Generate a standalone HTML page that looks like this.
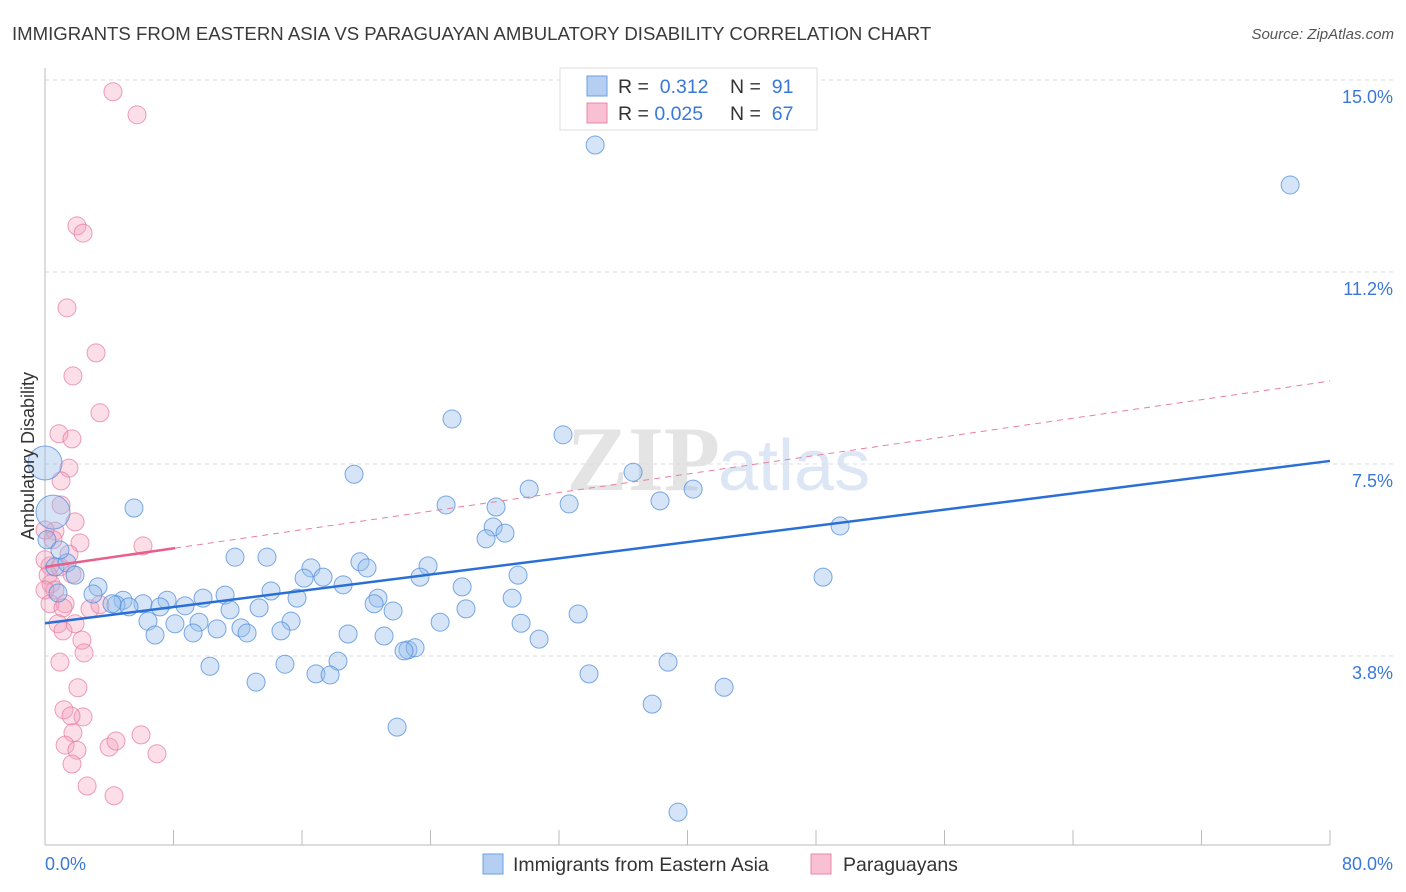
<!DOCTYPE html>
<html><head><meta charset="utf-8"><style>
body{margin:0;background:#fff;font-family:"Liberation Sans",sans-serif;}
svg{display:block}
</style></head><body>
<svg id="chart" width="1406" height="892">
<text x="12" y="40" font-size="18.6" fill="#3a3a3a">IMMIGRANTS FROM EASTERN ASIA VS PARAGUAYAN AMBULATORY DISABILITY CORRELATION CHART</text>
<text x="1394" y="39" font-size="15" fill="#555" font-style="italic" text-anchor="end">Source: ZipAtlas.com</text>
<text x="720" y="490" font-size="92" fill="#e4e4e4" font-family="Liberation Serif,serif" text-anchor="end" font-weight="bold">ZIP</text>
<text x="718" y="490" font-size="72" fill="#dce6f4">atlas</text>
<g id="grid"></g><g id="axes"></g><g id="marks"></g>
<text transform="translate(34,456) rotate(-90)" font-size="18" fill="#333" text-anchor="middle">Ambulatory Disability</text>
<g>
<rect x="560" y="68" width="257" height="62" fill="#fff" stroke="#ddd"/>
<rect x="587" y="76" width="20" height="20" fill="#b4cff2" stroke="#6a9fe0"/>
<rect x="587" y="103" width="20" height="20" fill="#f8c0d2" stroke="#e889a6"/>
<text x="618" y="93" font-size="19.5" fill="#333">R = <tspan fill="#3a78d8">&#160;0.312</tspan><tspan x="730">N = </tspan><tspan fill="#3a78d8">&#160;91</tspan></text>
<text x="618" y="120" font-size="19.5" fill="#333">R = <tspan fill="#3a78d8">0.025</tspan><tspan x="730">N = </tspan><tspan fill="#3a78d8">&#160;67</tspan></text>
</g>
<g>
<rect x="483" y="854" width="20" height="20" fill="#b4cff2" stroke="#6a9fe0"/>
<text x="513" y="871" font-size="19.5" fill="#333">Immigrants from Eastern Asia</text>
<rect x="811" y="854" width="20" height="20" fill="#f8c0d2" stroke="#e889a6"/>
<text x="843" y="871" font-size="19.5" fill="#333">Paraguayans</text>
</g>
</svg>
<script>
const yTicks=[3.75,7.5,11.25,15];
const yTickLabels=["3.8%","7.5%","11.2%","15.0%"];
const xTickLabels=["0.0%","80.0%"];
const blueX=[34.25,77.52,25.34,32.25,36.61,19.24,30.14,40.35,5.54,24.97,28.08,32.63,38.29,49.50,27.90,28.64,27.46,11.83,13.82,19.61,23.85,20.05,16.56,16.13,17.31,23.35,29.45,48.44,0.62,1.37,1.87,3.30,18.56,25.97,14.07,11.21,15.69,20.73,20.49,29.08,0.81,2.99,4.86,7.60,9.84,4.42,6.10,8.72,7.16,5.23,4.17,11.52,13.33,21.67,26.21,33.19,6.41,8.09,9.59,15.32,24.60,29.64,6.85,9.22,10.71,12.20,12.58,14.69,18.87,21.11,30.76,22.60,23.04,22.35,10.27,14.94,18.24,16.87,17.75,13.14,33.87,38.79,42.28,37.80,21.92,39.41,0,0.5,0.93,0.12];
const blueY=[13.73,12.95,8.38,8.07,7.34,7.30,7.01,7.01,6.64,6.70,6.66,6.72,6.78,6.29,6.27,6.15,6.04,5.68,5.68,5.59,5.51,5.47,5.47,5.27,5.29,5.29,5.33,5.29,5.49,5.57,5.33,5.10,5.14,5.10,5.02,4.94,4.88,4.88,4.77,4.88,4.98,4.96,4.84,4.84,4.88,4.75,4.77,4.73,4.71,4.71,4.77,4.65,4.69,4.63,4.67,4.57,4.43,4.38,4.41,4.43,4.41,4.39,4.16,4.20,4.28,4.30,4.20,4.24,4.18,4.14,4.08,3.87,3.91,3.85,3.55,3.59,3.65,3.40,3.38,3.24,3.40,3.63,3.14,2.81,2.36,0.70,7.52,6.56,5.82,6.02];
const blueBig=[0,0,0,0,0,0,0,0,0,0,0,0,0,0,0,0,0,0,0,0,0,0,0,0,0,0,0,0,0,0,0,0,0,0,0,0,0,0,0,0,0,0,0,0,0,0,0,0,0,0,0,0,0,0,0,0,0,0,0,0,0,0,0,0,0,0,0,0,0,0,0,0,0,0,0,0,0,0,0,0,0,0,0,0,0,0,1,1,0,0];
const pinkX=[4.23,5.73,1.99,2.37,1.37,3.18,1.74,3.42,0.87,1.68,1.49,1.00,1.00,1.87,0.62,2.18,0.50,1.49,6.10,0.31,0.93,1.68,0.19,0.37,0.62,1.25,0.31,1.12,2.80,1.87,0.81,1.12,2.30,2.43,0.93,2.05,1.18,2.37,1.62,1.74,1.25,1.99,1.68,2.62,3.99,4.42,5.98,6.97,4.30,3.42,0,0,0];
const pinkY=[14.77,14.32,12.15,12.01,10.55,9.67,9.22,8.50,8.09,7.99,7.42,7.17,6.70,6.37,6.19,5.96,6.02,5.74,5.90,5.51,5.49,5.35,5.33,5.16,5.04,4.77,4.77,4.69,4.67,4.38,4.38,4.24,4.06,3.81,3.63,3.13,2.70,2.56,2.58,2.25,2.01,1.91,1.64,1.21,1.97,2.09,2.21,1.84,1.02,4.75,6.21,5.63,5.04];
const blueTrend=[4.39,7.56];
const pinkTrend=[5.49,9.12];
const pinkSolidEnd=8.1;

const NS="http://www.w3.org/2000/svg";
const X=v=>45+v*(1285/80);
const Y=v=>848-v*51.2;
function mk(tag,attrs,parent){const e=document.createElementNS(NS,tag);for(const k in attrs)e.setAttribute(k,attrs[k]);parent.appendChild(e);return e;}
const grid=document.getElementById('grid'),axes=document.getElementById('axes'),marks=document.getElementById('marks');
yTicks.forEach((t,i)=>{
 const l=mk('line',{x1:45,x2:1395,y1:Y(t),y2:Y(t),stroke:'#ddd','stroke-dasharray':'4,4'},grid);
 
 
 const tx=mk('text',{x:1393,y:Y(t)+23,'font-size':18,fill:'#3a78d8','text-anchor':'end'},axes);
 tx.textContent=yTickLabels[i];
 
 
});
const ya=mk('line',{x1:45,x2:45,y1:68,y2:845,stroke:'#bbb'},axes);


const xa=mk('line',{x1:45,x2:1330,y1:845,y2:845,stroke:'#bbb'},axes);


for(let i=0;i<=10;i++){
 const t=mk('line',{x1:X(i*8),x2:X(i*8),y1:830,y2:845,stroke:'#bbb'},axes);
 
 
}
const xl0=mk('text',{x:45,y:870,'font-size':18,fill:'#3a78d8'},axes);
xl0.textContent=xTickLabels[0];


const xl1=mk('text',{x:1393,y:870,'font-size':18,fill:'#3a78d8','text-anchor':'end'},axes);
xl1.textContent=xTickLabels[1];



pinkX.forEach((v,i)=>{
 const c=mk('circle',{cx:X(v),cy:Y(pinkY[i]),r:9,fill:'rgba(244,160,188,0.35)',stroke:'rgba(230,120,155,0.7)','stroke-width':1},marks);
 
 
});
blueX.forEach((v,i)=>{
 const c=mk('circle',{cx:X(v),cy:Y(blueY[i]),r:blueBig[i]?17:9,fill:'rgba(150,190,236,0.4)',stroke:'rgba(80,140,220,0.75)','stroke-width':1},marks);
 
 
});
const bt=mk('line',{x1:X(0),y1:Y(blueTrend[0]),x2:X(80),y2:Y(blueTrend[1]),stroke:'#2a6fd6','stroke-width':2.5},marks);


const pe=pinkTrend[0]+(pinkTrend[1]-pinkTrend[0])*pinkSolidEnd/80;
const pt=mk('line',{x1:X(0),y1:Y(pinkTrend[0]),x2:X(pinkSolidEnd),y2:Y(pe),stroke:'#e8608a','stroke-width':2.5},marks);


const pd=mk('line',{x1:X(pinkSolidEnd),y1:Y(pe),x2:X(80),y2:Y(pinkTrend[1]),stroke:'#e8809f','stroke-width':1,'stroke-dasharray':'6,5'},marks);


</script>
</body></html>
